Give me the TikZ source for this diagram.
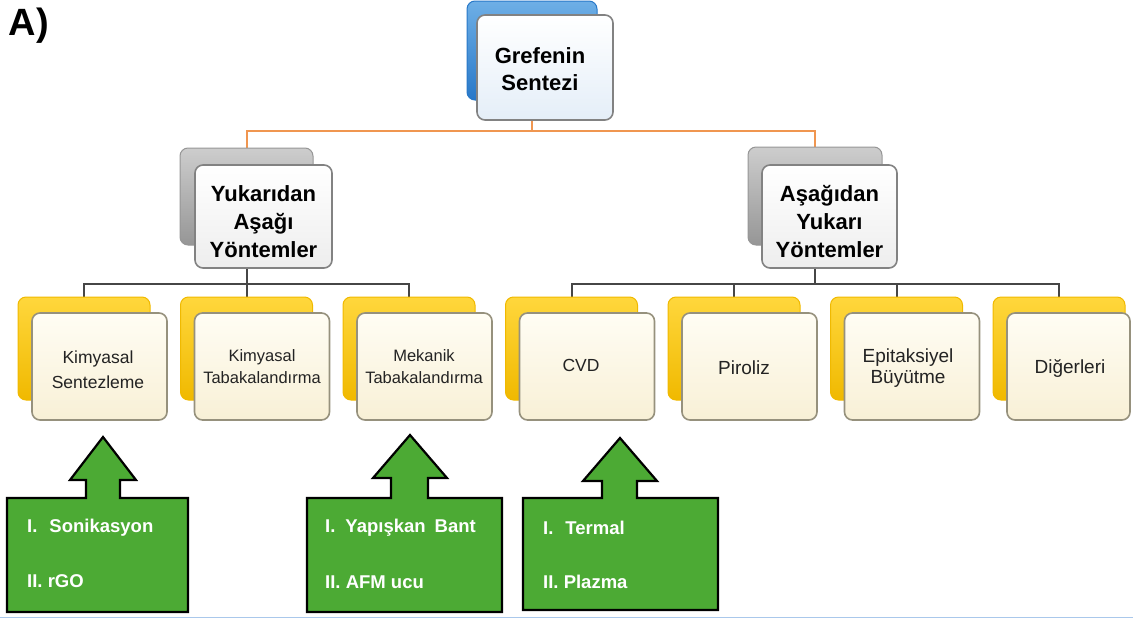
\documentclass[tikz,border=0pt]{standalone}
\usepackage{fontspec}
\setmainfont{Liberation Sans}
\usetikzlibrary{backgrounds}

\definecolor{blueA}{RGB}{40,120,200}
\definecolor{blueB}{RGB}{110,175,230}
\definecolor{tintBlue}{RGB}{228,238,248}
\definecolor{grayA}{RGB}{150,150,150}
\definecolor{grayB}{RGB}{205,205,205}
\definecolor{frameGray}{RGB}{130,130,130}
\definecolor{goldA}{RGB}{240,185,0}
\definecolor{goldB}{RGB}{255,215,60}
\definecolor{creamA}{RGB}{255,253,244}
\definecolor{creamB}{RGB}{248,240,214}
\definecolor{creamFrame}{RGB}{150,145,125}
\definecolor{linkOrange}{RGB}{240,150,80}
\definecolor{linkDark}{RGB}{70,70,70}
\definecolor{leafGreen}{RGB}{76,170,52}
\definecolor{ruleBlue}{RGB}{170,200,235}
\definecolor{textDark}{RGB}{35,35,35}

\tikzset{
  box/.style={rounded corners=8pt, inner sep=0pt},
  backblue/.style={box, top color=blueB, bottom color=blueA, draw=blueA, line width=1pt},
  backgray/.style={box, top color=grayB, bottom color=grayA, draw=grayA, line width=1pt},
  backgold/.style={box, top color=goldB, bottom color=goldA, draw=goldA, line width=1pt},
  frontblue/.style={box, top color=white, bottom color=tintBlue, draw=frameGray, line width=1.6pt},
  frontgray/.style={box, top color=white, bottom color=white!93!black, draw=frameGray, line width=1.6pt},
  frontcream/.style={box, top color=creamA, bottom color=creamB, draw=creamFrame, line width=1.6pt,
    minimum height=107pt},
  headtext/.style={align=center, inner sep=0pt, font=\fontsize{22}{28}\selectfont\bfseries},
  leaftext/.style={align=center, inner sep=0pt, text=textDark, font=\fontsize{17.5}{25}\selectfont},
  orangelink/.style={draw=linkOrange, line width=2pt},
  darklink/.style={draw=linkDark, line width=2pt},
  callout/.style={fill=leafGreen, draw=black, line width=2.2pt, line join=miter},
  callouttext/.style={anchor=west, text=white, inner sep=0pt, font=\fontsize{18.5}{20}\selectfont\bfseries},
}

\begin{document}
\begin{tikzpicture}[x=1pt, y=-1pt]
\useasboundingbox (0,0) rectangle (1133,619);

% panel label
\node[font=\fontsize{38}{40}\selectfont\bfseries, inner sep=0pt] (panel) at (29,26) {A)};

% root
\node[backblue, minimum width=130pt, minimum height=99pt] (top-back) at (532,50.5) {};
\node[frontblue, minimum width=136pt, minimum height=105pt] (top) at (545,67.5) {};
\node[headtext, font=\fontsize{22}{27}\selectfont\bfseries] (top-text) at (540,69) {Grefenin\\Sentezi};

% second level
\node[backgray, minimum width=133pt, minimum height=97pt] (l2a-back) at (246.5,196.5) {};
\node[frontgray, minimum width=137pt, minimum height=103pt] (l2a) at (263.5,216.5) {};
\node[headtext] (l2a-text) at (263.5,222) {Yukarıdan\\Aşağı\\Yöntemler};
\node[backgray, minimum width=134pt, minimum height=98pt] (l2b-back) at (815,196) {};
\node[frontgray, minimum width=135pt, minimum height=103pt] (l2b) at (829.5,216.5) {};
\node[headtext] (l2b-text) at (829.5,222) {Aşağıdan\\Yukarı\\Yöntemler};

% third level: gold backs, cream fronts, labels
\foreach \i/\bx in {1/18, 2/180.5, 3/343, 4/505.5, 5/668, 6/830.5, 7/993} {
  \node[backgold, minimum width=132pt, minimum height=103pt] (b\i-back) at ({\bx+66},348.5) {};
}
\foreach \i/\cx in {1/99.5, 2/262, 3/424.5, 4/587, 5/749.5, 6/912} {
  \node[frontcream, minimum width=135pt] (b\i) at (\cx,366.5) {};
}
\node[frontcream, minimum width=123pt] (b7) at (1068.5,366.5) {};

\node[leaftext] (b1-text) at (98,369.5) {Kimyasal\\Sentezleme};
\node[leaftext, font=\fontsize{16.5}{22}\selectfont] (b2-text) at (262,367) {Kimyasal\\Tabakalandırma};
\node[leaftext, font=\fontsize{16.5}{22}\selectfont] (b3-text) at (424,367) {Mekanik\\Tabakalandırma};
\node[leaftext] (b4-text) at (581,365) {CVD};
\node[leaftext, font=\fontsize{19}{21}\selectfont] (b5-text) at (744,368) {Piroliz};
\node[leaftext, font=\fontsize{19}{21}\selectfont] (b6-text) at (908,368) {Epitaksiyel\\Büyütme};
\node[leaftext, font=\fontsize{19}{21}\selectfont] (b7-text) at (1070,368) {Diğerleri};

% connectors behind the boxes
\begin{scope}[on background layer]
  \draw[orangelink] (top-back.south) -- ++(0,30) -| (l2a-back.north);
  \draw[orangelink] (top-back.south) ++(0,30) -| (l2b-back.north);
  \draw[darklink] (l2a-back.south) -- ++(0,38) -| (b1-back.north);
  \draw[darklink] (l2a-back.south) ++(0,38) -| (b2-back.north);
  \draw[darklink] (l2a-back.south) ++(0,38) -| (b3-back.north);
  \draw[darklink] (l2b-back.south) -- ++(0,38) -| (b4-back.north);
  \draw[darklink] (l2b-back.south) ++(0,38) -| (b5-back.north);
  \draw[darklink] (l2b-back.south) ++(0,38) -| (b6-back.north);
  \draw[darklink] (l2b-back.south) ++(0,38) -| (b7-back.north);
\end{scope}

% green callouts pointing up at their methods
\draw[callout] (7,498) -- (86,498) -- (86,480) -- (70,480) -- (103,437) -- (136,480)
  -- (120,480) -- (120,498) -- (188,498) -- (188,612) -- (7,612) -- cycle;
\node[callouttext] (c1a) at (27,528) {I.\hspace{12pt}Sonikasyon};
\node[callouttext] (c1b) at (27,581) {II. rGO};

\draw[callout] (307,498) -- (391,498) -- (391,478) -- (373,478) -- (410,435) -- (447,478)
  -- (428,478) -- (428,498) -- (502,498) -- (502,612) -- (307,612) -- cycle;
\node[callouttext] (c2a) at (325,528) {I.\hspace{10pt}Yapışkan\hspace{9pt}Bant};
\node[callouttext] (c2b) at (325,582) {II. AFM ucu};

\draw[callout] (523,498) -- (602,498) -- (602,481) -- (583,481) -- (620,438) -- (657,481)
  -- (637,481) -- (637,498) -- (718,498) -- (718,610) -- (523,610) -- cycle;
\node[callouttext] (c3a) at (543,528) {I.\hspace{12pt}Termal};
\node[callouttext] (c3b) at (543,582) {II. Plazma};

% bottom rule
\draw[ruleBlue, line width=1.5pt] (0,617.5) -- (1133,617.5);
\end{tikzpicture}
\end{document}
